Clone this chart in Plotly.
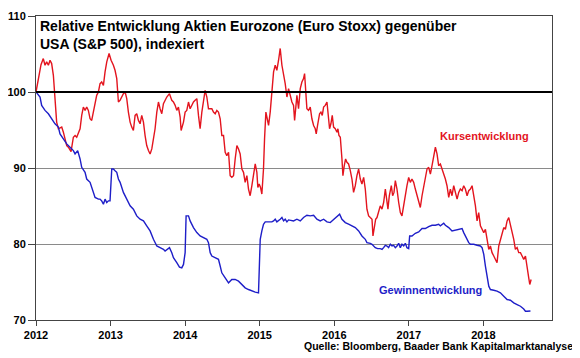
import plotly.graph_objects as go

# Kursentwicklung (relative price performance, indexed)
kurs_x = [2012.000, 2012.040, 2012.067, 2012.098, 2012.121, 2012.143, 2012.166, 2012.188, 2012.210,
          2012.233, 2012.255, 2012.277, 2012.300, 2012.345, 2012.367, 2012.389, 2012.412, 2012.434,
          2012.456, 2012.470, 2012.501, 2012.524, 2012.546, 2012.568, 2012.591, 2012.613, 2012.635,
          2012.658, 2012.680, 2012.702, 2012.725, 2012.747, 2012.770, 2012.792, 2012.814, 2012.837,
          2012.859, 2012.881, 2012.904, 2012.926, 2012.949, 2012.980, 2013.007, 2013.038, 2013.060,
          2013.083, 2013.105, 2013.127, 2013.150, 2013.172, 2013.195, 2013.217, 2013.239, 2013.262,
          2013.284, 2013.306, 2013.329, 2013.351, 2013.374, 2013.396, 2013.418, 2013.441, 2013.463,
          2013.485, 2013.508, 2013.530, 2013.553, 2013.575, 2013.597, 2013.620, 2013.642, 2013.664,
          2013.687, 2013.709, 2013.731, 2013.754, 2013.790, 2013.821, 2013.843, 2013.866, 2013.888,
          2013.910, 2013.933, 2013.946, 2013.978, 2014.000, 2014.022, 2014.045, 2014.067, 2014.089,
          2014.112, 2014.134, 2014.157, 2014.179, 2014.201, 2014.224, 2014.246, 2014.268, 2014.291,
          2014.313, 2014.358, 2014.380, 2014.403, 2014.425, 2014.447, 2014.470, 2014.492, 2014.515,
          2014.537, 2014.559, 2014.582, 2014.604, 2014.626, 2014.649, 2014.671, 2014.694, 2014.716,
          2014.738, 2014.761, 2014.783, 2014.805, 2014.828, 2014.850, 2014.872, 2014.895, 2014.917,
          2014.940, 2014.962, 2014.975, 2014.993, 2015.011, 2015.029, 2015.051, 2015.065, 2015.083,
          2015.101, 2015.119, 2015.141, 2015.163, 2015.186, 2015.208, 2015.230, 2015.253, 2015.275,
          2015.298, 2015.320, 2015.342, 2015.365, 2015.387, 2015.432, 2015.454, 2015.468, 2015.485,
          2015.499, 2015.521, 2015.544, 2015.566, 2015.588, 2015.602, 2015.620, 2015.633, 2015.655,
          2015.678, 2015.700, 2015.723, 2015.745, 2015.758, 2015.776, 2015.803, 2015.821, 2015.839,
          2015.857, 2015.879, 2015.902, 2015.924, 2015.937, 2015.955, 2015.973, 2015.991, 2016.013,
          2016.036, 2016.049, 2016.063, 2016.081, 2016.103, 2016.116, 2016.134, 2016.152, 2016.170,
          2016.192, 2016.215, 2016.237, 2016.259, 2016.282, 2016.304, 2016.327, 2016.349, 2016.371,
          2016.394, 2016.416, 2016.438, 2016.461, 2016.483, 2016.506, 2016.519, 2016.537, 2016.555,
          2016.573, 2016.595, 2016.617, 2016.640, 2016.662, 2016.685, 2016.707, 2016.720, 2016.738,
          2016.765, 2016.783, 2016.801, 2016.819, 2016.841, 2016.864, 2016.886, 2016.908, 2016.931,
          2016.953, 2016.975, 2016.998, 2017.020, 2017.042, 2017.065, 2017.087, 2017.110, 2017.132,
          2017.154, 2017.177, 2017.199, 2017.221, 2017.244, 2017.266, 2017.289, 2017.311, 2017.333,
          2017.356, 2017.378, 2017.400, 2017.423, 2017.445, 2017.468, 2017.490, 2017.512, 2017.535,
          2017.557, 2017.579, 2017.602, 2017.624, 2017.647, 2017.669, 2017.691, 2017.714, 2017.736,
          2017.758, 2017.781, 2017.803, 2017.826, 2017.848, 2017.870, 2017.893, 2017.915, 2017.937,
          2017.960, 2017.982, 2018.005, 2018.027, 2018.049, 2018.072, 2018.094, 2018.116, 2018.139,
          2018.161, 2018.183, 2018.206, 2018.228, 2018.251, 2018.273, 2018.295, 2018.318, 2018.340,
          2018.362, 2018.385, 2018.407, 2018.429, 2018.452, 2018.474, 2018.497, 2018.519, 2018.541,
          2018.564, 2018.586, 2018.608, 2018.622, 2018.640]
kurs_y = [100.0, 102.0, 103.6, 104.40, 103.52, 103.96, 103.52, 104.18, 103.74,
          102.20, 98.24, 96.04, 95.16, 95.38, 94.71, 93.83, 92.95, 92.73,
          92.29, 92.16, 94.05, 94.27, 94.05, 94.49, 95.16, 96.92, 98.02,
          97.58, 98.02, 97.58, 96.48, 96.26, 97.36, 98.46, 99.56, 100.0,
          101.10, 101.32, 100.88, 102.64, 103.96, 105.07, 104.18, 103.52, 102.86,
          101.76, 98.68, 98.90, 99.34, 99.78, 100.0, 99.12, 97.36, 96.04,
          95.38, 94.93, 96.92, 97.14, 96.26, 95.82, 96.92, 96.04, 94.27,
          92.95, 92.29, 91.85, 92.51, 93.83, 95.16, 97.36, 98.68, 97.80,
          97.14, 98.46, 98.90, 99.34, 99.78, 98.90, 98.68, 98.24, 97.58,
          98.02, 96.70, 94.93, 96.04, 97.36, 97.58, 98.68, 97.80, 98.24,
          98.68, 98.90, 99.12, 96.92, 95.16, 97.36, 99.12, 100.22, 99.34,
          97.80, 97.80, 97.36, 97.14, 97.58, 97.36, 96.48, 94.27, 94.27,
          92.07, 91.63, 92.07, 88.99, 88.77, 88.99, 91.19, 92.95, 92.51,
          91.85, 89.87, 89.43, 88.11, 88.99, 87.23, 86.35, 87.67, 89.43,
          90.53, 89.43, 87.45, 87.89, 87.45, 86.57, 89.87, 93.83, 97.36,
          96.48, 95.60, 97.36, 100.0, 102.64, 103.52, 102.86, 104.18, 105.73,
          103.52, 102.42, 101.10, 99.34, 100.44, 98.68, 98.24, 96.26, 98.68,
          99.56, 97.80, 100.44, 101.32, 101.76, 102.42, 100.0, 97.80, 97.58,
          98.02, 96.48, 95.60, 95.16, 94.49, 95.60, 97.14, 97.36, 96.92,
          98.02, 98.24, 98.68, 96.92, 95.16, 95.82, 96.92, 95.38, 95.16,
          94.71, 95.16, 94.27, 94.05, 91.19, 88.99, 90.31, 91.19, 90.75,
          90.53, 89.65, 88.55, 86.79, 87.67, 88.99, 89.87, 88.55, 87.89,
          88.77, 87.23, 84.58, 83.70, 83.48, 83.26, 81.06, 82.38, 83.26,
          83.48, 84.14, 85.02, 84.58, 85.46, 87.23, 85.90, 84.58, 86.35,
          87.67, 86.35, 86.79, 88.33, 87.23, 85.46, 84.14, 83.70, 85.24,
          86.79, 87.67, 88.77, 88.11, 88.55, 88.11, 87.23, 86.35, 85.46,
          84.80, 86.35, 87.67, 88.99, 89.87, 90.09, 89.21, 90.31, 91.63,
          92.73, 91.85, 90.31, 90.53, 89.87, 89.43, 88.55, 87.67, 86.13,
          87.23, 86.35, 87.67, 86.57, 85.90, 86.79, 87.23, 87.01, 87.67,
          87.23, 86.35, 87.01, 87.23, 87.67, 86.35, 85.02, 83.04, 84.14,
          82.38, 81.94, 81.50, 81.94, 80.84, 79.30, 79.74, 78.86, 78.42,
          77.98, 77.54, 79.74, 80.62, 81.50, 82.16, 81.94, 83.04, 83.48,
          82.60, 81.50, 80.62, 79.30, 79.52, 78.86, 78.86, 78.42, 77.98,
          78.42, 76.65, 75.55, 74.67, 75.33]

# Gewinnentwicklung (relative earnings performance, indexed)
gewinn_x = [2012.000, 2012.054, 2012.076, 2012.121, 2012.166, 2012.210, 2012.255, 2012.300, 2012.322,
            2012.367, 2012.412, 2012.456, 2012.501, 2012.524, 2012.559, 2012.591, 2012.613, 2012.658,
            2012.680, 2012.725, 2012.747, 2012.770, 2012.792, 2012.837, 2012.859, 2012.881, 2012.904,
            2012.926, 2012.949, 2012.971, 2012.993, 2013.016, 2013.038, 2013.060, 2013.083, 2013.105,
            2013.128, 2013.172, 2013.217, 2013.262, 2013.306, 2013.351, 2013.396, 2013.441, 2013.485,
            2013.530, 2013.575, 2013.620, 2013.664, 2013.709, 2013.731, 2013.754, 2013.790, 2013.821,
            2013.843, 2013.888, 2013.924, 2013.955, 2013.978, 2014.000, 2014.013, 2014.045, 2014.067,
            2014.112, 2014.157, 2014.201, 2014.246, 2014.291, 2014.313, 2014.336, 2014.358, 2014.403,
            2014.447, 2014.470, 2014.492, 2014.537, 2014.582, 2014.626, 2014.671, 2014.716, 2014.761,
            2014.805, 2014.850, 2014.895, 2014.940, 2014.984, 2014.998, 2015.007, 2015.029, 2015.051,
            2015.074, 2015.119, 2015.163, 2015.186, 2015.208, 2015.230, 2015.253, 2015.275, 2015.298,
            2015.320, 2015.342, 2015.365, 2015.387, 2015.454, 2015.499, 2015.544, 2015.588, 2015.633,
            2015.678, 2015.723, 2015.767, 2015.812, 2015.857, 2015.902, 2015.946, 2015.991, 2016.036,
            2016.072, 2016.103, 2016.148, 2016.192, 2016.237, 2016.282, 2016.327, 2016.371, 2016.416,
            2016.438, 2016.483, 2016.506, 2016.550, 2016.582, 2016.617, 2016.640, 2016.662, 2016.685,
            2016.707, 2016.729, 2016.752, 2016.774, 2016.796, 2016.819, 2016.841, 2016.864, 2016.886,
            2016.908, 2016.931, 2016.953, 2016.975, 2016.998, 2017.011, 2017.042, 2017.087, 2017.132,
            2017.177, 2017.221, 2017.266, 2017.311, 2017.356, 2017.400, 2017.423, 2017.468, 2017.490,
            2017.535, 2017.579, 2017.624, 2017.669, 2017.714, 2017.736, 2017.758, 2017.781, 2017.803,
            2017.826, 2017.870, 2017.915, 2017.960, 2017.982, 2018.005, 2018.027, 2018.049, 2018.072,
            2018.094, 2018.116, 2018.139, 2018.183, 2018.228, 2018.273, 2018.318, 2018.362, 2018.407,
            2018.452, 2018.497, 2018.541, 2018.564, 2018.586, 2018.631]
gewinn_y = [100.0, 99.34, 98.24, 97.58, 97.14, 96.48, 95.82, 95.38, 94.49,
            93.83, 93.17, 92.73, 92.29, 91.85, 92.29, 91.19, 90.09, 89.43,
            88.55, 88.11, 87.45, 87.01, 86.13, 85.90, 85.90, 85.68, 85.24,
            85.90, 85.46, 85.68, 85.68, 89.87, 89.87, 89.65, 89.43, 88.55,
            88.11, 86.79, 85.90, 85.02, 84.58, 83.70, 83.26, 83.04, 82.38,
            81.72, 80.62, 79.74, 79.52, 79.30, 79.08, 79.30, 79.52, 78.86,
            78.20, 77.54, 76.96, 76.87, 77.31, 78.86, 83.70, 83.70, 83.04,
            82.16, 81.50, 81.06, 80.84, 80.62, 80.18, 78.86, 78.42, 78.20,
            77.98, 77.10, 76.21, 75.55, 74.89, 75.33, 75.33, 75.11, 74.67,
            74.23, 74.01, 73.79, 73.66, 73.57, 79.30, 80.62, 81.72, 82.60,
            82.91, 82.91, 82.91, 83.04, 83.26, 82.91, 83.04, 83.26, 83.48,
            83.04, 83.26, 82.91, 83.17, 83.04, 83.26, 83.04, 83.48, 83.79,
            83.70, 83.79, 83.26, 83.04, 83.26, 82.91, 82.82, 83.26, 83.70,
            83.92, 83.26, 82.82, 82.60, 82.38, 82.16, 81.72, 81.06, 80.62,
            80.18, 80.09, 79.96, 79.52, 79.39, 79.39, 79.30, 79.52, 79.83,
            79.74, 79.52, 79.96, 79.74, 79.83, 79.52, 79.74, 80.09, 79.52,
            79.96, 79.74, 80.09, 79.52, 79.39, 81.06, 81.06, 81.41, 81.59,
            82.03, 82.03, 82.29, 82.47, 82.47, 82.60, 82.38, 82.73, 82.47,
            82.16, 81.72, 81.85, 81.94, 82.03, 81.50, 81.06, 80.62, 80.18,
            79.96, 79.96, 79.83, 79.74, 79.52, 78.64, 77.10, 75.77, 74.45,
            74.01, 74.01, 73.92, 73.79, 73.57, 73.13, 72.69, 72.60, 72.25,
            72.03, 71.81, 71.45, 71.15, 71.15, 71.19]

year_ticks = [2012, 2013, 2014, 2015, 2016, 2017, 2018]
y_ticks = [70, 80, 90, 100, 110]

RED = "#e3141e"
BLUE = "#1e1ec8"
FONT = "Liberation Sans, Arial, sans-serif"

fig = go.Figure()
fig.add_trace(go.Scatter(x=kurs_x, y=kurs_y, mode="lines", name="Kursentwicklung",
                         line=dict(color=RED, width=1.4)))
fig.add_trace(go.Scatter(x=gewinn_x, y=gewinn_y, mode="lines", name="Gewinnentwicklung",
                         line=dict(color=BLUE, width=1.4)))

fig.add_shape(type="line", xref="paper", x0=0, x1=1, yref="y", y0=100, y1=100,
              line=dict(color="black", width=2), layer="above")

fig.add_annotation(x=0.004, y=1.0, xref="paper", yref="paper", xanchor="left", yanchor="top",
                   align="left", showarrow=False,
                   text="<b>Relative Entwicklung Aktien Eurozone (Euro Stoxx) gegenüber<br>USA (S&P 500), indexiert</b>",
                   font=dict(family=FONT, size=14, color="black"))
fig.add_annotation(x=2018.01, y=94.2, xref="x", yref="y", showarrow=False,
                   text="<b>Kursentwicklung</b>", font=dict(family=FONT, size=11, color=RED))
fig.add_annotation(x=2017.29, y=74.0, xref="x", yref="y", showarrow=False,
                   text="<b>Gewinnentwicklung</b>", font=dict(family=FONT, size=11, color=BLUE))
fig.add_annotation(x=1.0, y=-0.0855, xref="paper", yref="paper", xanchor="right", yanchor="middle",
                   xshift=23, showarrow=False,
                   text="<b>Quelle: Bloomberg, Baader Bank Kapitalmarktanalyse</b>",
                   font=dict(family=FONT, size=10.5, color="black"))

# The page places the figure 8px in from the top-left corner, so the figure
# is 8px smaller and its left/top margins 8px narrower.
fig.update_layout(
    width=572, height=350,
    margin=dict(l=28, r=28, t=8, b=38),
    paper_bgcolor="white", plot_bgcolor="white",
    showlegend=False,
    font=dict(family=FONT, color="black"),
)
fig.update_xaxes(range=[2012, 2018.92], tickvals=year_ticks, ticktext=[str(v) for v in year_ticks],
                 showgrid=False, zeroline=False, automargin=False,
                 showline=True, linecolor="#444", linewidth=1, mirror=True,
                 ticks="outside", ticklen=5, tickcolor="#444",
                 tickfont=dict(family=FONT, size=11, color="black", weight="bold"))
fig.update_yaxes(range=[70, 110], tickvals=y_ticks, showgrid=True, gridcolor="#8a8a8a", gridwidth=1,
                 zeroline=False, automargin=False,
                 showline=True, linecolor="#444", linewidth=1, mirror=True,
                 ticks="outside", ticklen=7, tickcolor="#444",
                 tickfont=dict(family=FONT, size=11, color="black", weight="bold"))

fig.write_html("out.html")
